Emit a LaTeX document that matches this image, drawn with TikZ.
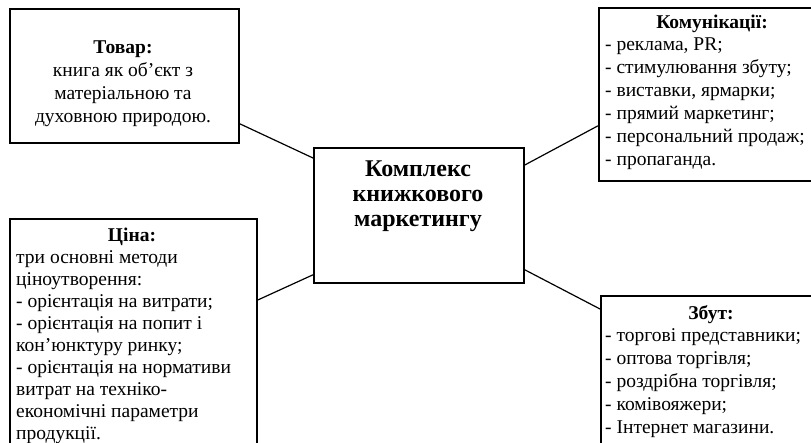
\documentclass[tikz,border=0pt]{standalone}
\usepackage{fontspec}
\setmainfont{Liberation Serif}
\usetikzlibrary{positioning}

\begin{document}
\begin{tikzpicture}[x=1pt,y=1pt,
        box/.style={draw, line width=1.8pt, inner sep=0pt, anchor=north west},
        txt/.style={inner sep=0pt, font=\fontsize{19.5}{23}\selectfont},
        link/.style={line width=1.2pt}]
    \clip (0,0) rectangle (811,-443);

    \node[box, minimum width=229, minimum height=134] (tovar) at (9,-8) {};
    \node[box, minimum width=228, minimum height=173] (komun) at (598,-7) {};
    \node[box, minimum width=210, minimum height=135] (centr) at (313,-147) {};
    \node[box, minimum width=247, minimum height=240] (tsina) at (9,-218) {};
    \node[box, minimum width=224, minimum height=160] (zbut) at (600,-295) {};

    \node[txt, align=center, anchor=north] (tovar-t) at (123,-41)
        {\textbf{Товар:}\\книга як об’єкт з\\матеріальною та\\духовною природою.};
    \node[inner sep=0pt, align=center, anchor=north,
          font=\fontsize{24}{25}\selectfont\bfseries] (centr-t) at (418,-161)
        {Комплекс\\книжкового\\маркетингу};

    \node[txt, anchor=north] (komun-t) at (712,-15) {\textbf{Комунікації:}};
    \node[txt, align=left, anchor=north west] (komun-l) at (605,-38)
        {- реклама, PR;\\- стимулювання збуту;\\- виставки, ярмарки;\\
         - прямий маркетинг;\\- персональний продаж;\\- пропаганда.};

    \node[txt, anchor=north] (tsina-t) at (132,-228) {\textbf{Ціна:}};
    \node[txt, align=left, anchor=north west,
          font=\fontsize{19.5}{22.1}\selectfont] (tsina-l) at (16,-250)
        {три основні методи\\ціноутворення:\\- орієнтація на витрати;\\
         - орієнтація на попит і\\кон’юнктуру ринку;\\- орієнтація на нормативи\\
         витрат на техніко-\\економічні параметри\\продукції.};

    \node[txt, anchor=north] (zbut-t) at (711,-305) {\textbf{Збут:}};
    \node[txt, align=left, anchor=north west] (zbut-l) at (605,-328)
        {- торгові представники;\\- оптова торгівля;\\- роздрібна торгівля;\\
         - комівояжери;\\- Інтернет магазини.};

    \draw[link] ([yshift=20]tovar.south east) -- ([yshift=-11]centr.north west);
    \draw[link] ([yshift=-18]centr.north east) -- ([yshift=56]komun.south west);
    \draw[link] ([yshift=-82]tsina.north east) -- ([yshift=9]centr.south west);
    \draw[link] ([yshift=14]centr.south east) -- ([yshift=-14]zbut.north west);
\end{tikzpicture}
\end{document}
